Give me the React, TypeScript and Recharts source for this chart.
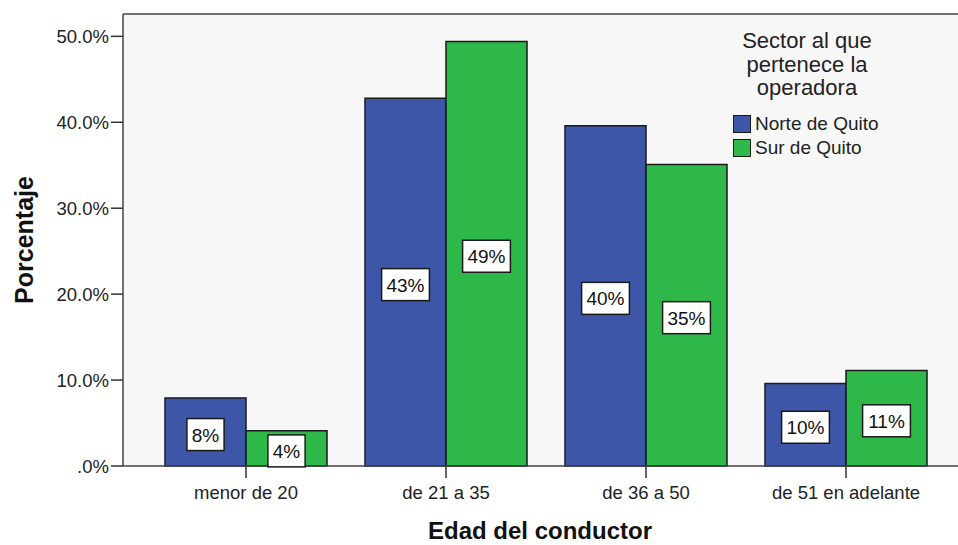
import { BarChart, Bar, XAxis, YAxis, CartesianGrid, Legend, LabelList, Label, ReferenceLine } from 'recharts';

const categories = ['menor de 20', 'de 21 a 35', 'de 36 a 50', 'de 51 en adelante'];
const norte = [7.9, 42.8, 39.6, 9.6];
const sur = [4.1, 49.4, 35.1, 11.1];
const seriesNames = ['Norte de Quito', 'Sur de Quito'];
const seriesColors = ['#3d56a8', '#2fb84a'];
const yTicks = [0, 10, 20, 30, 40, 50];
const yMax = 52.6;
const legendTitle = ['Sector al que', 'pertenece la', 'operadora'];

const data = categories.map((c, i) => ({ name: c, norte: norte[i], sur: sur[i] }));

const FONT = '"Liberation Sans", Arial, sans-serif';

const fmtTick = (v: number) => (v === 0 ? '.0%' : v.toFixed(1) + '%');

function BoxLabel(props: any) {
  const { x, y, width, height, value } = props;
  const txt = Math.round(value) + '%';
  const w = txt.length * 10.6 + 16;
  const cx = x + width / 2;
  const cy = y + height / 2 + 2.5;
  return (
    <g>
      <rect x={cx - w / 2} y={cy - 16} width={w} height={32} fill="#fff" stroke="#1a1a1a" strokeWidth={1.5} />
      <text x={cx} y={cy + 7} textAnchor="middle" fontSize={19} fontFamily={FONT} fill="#111">
        {txt}
      </text>
    </g>
  );
}

function LegendBox() {
  return (
    <div style={{ fontFamily: FONT, color: '#222' }}>
      <div style={{ width: 220, textAlign: 'center', fontSize: 22, lineHeight: '23.5px' }}>
        {legendTitle.map((t) => (
          <div key={t}>{t}</div>
        ))}
      </div>
      <div style={{ marginTop: 12, marginLeft: 36 }}>
        {seriesNames.map((n, i) => (
          <div key={n} style={{ display: 'flex', alignItems: 'center', height: 24, fontSize: 19 }}>
            <span
              style={{
                width: 16,
                height: 16,
                background: seriesColors[i],
                border: '1.5px solid #1a1a1a',
                marginRight: 4,
              }}
            />
            {n}
          </div>
        ))}
      </div>
    </div>
  );
}

export default function App() {
  return (
    <div style={{ position: 'fixed', left: 0, top: 0, width: 958, height: 545, overflow: 'hidden', background: '#fff' }}>
      <BarChart
        width={969}
        height={545}
        data={data}
        margin={{ top: 14, right: 0, bottom: 0, left: 0 }}
        barGap={0}
        barSize={81}
      >
        <CartesianGrid fill="#f6f7f6" horizontal={false} vertical={false} />
        <ReferenceLine y={yMax} stroke="#444" strokeWidth={1.5} />
        <XAxis
          dataKey="name"
          height={79}
          padding={{ left: 23, right: 23 }}
          tickSize={12}
          tickMargin={8}
          axisLine={{ stroke: '#444', strokeWidth: 1.5 }}
          tickLine={{ stroke: '#333', strokeWidth: 1.5 }}
          tick={{ fontSize: 18.5, fill: '#222', fontFamily: FONT }}
        >
          <Label
            content={(p: any) => {
              const vb = p.viewBox;
              return (
                <text
                  x={vb.x + vb.width / 2 - 6}
                  y={vb.y + vb.height - 6}
                  textAnchor="middle"
                  fontSize={24}
                  fontWeight="bold"
                  fontFamily={FONT}
                  fill="#111"
                >
                  Edad del conductor
                </text>
              );
            }}
          />
        </XAxis>
        <YAxis
          width={123}
          domain={[0, yMax]}
          ticks={yTicks}
          tickFormatter={fmtTick}
          tickSize={12}
          tickMargin={2}
          axisLine={{ stroke: '#444', strokeWidth: 1.5 }}
          tickLine={{ stroke: '#333', strokeWidth: 1.5 }}
          tick={{ fontSize: 18.5, fill: '#222', fontFamily: FONT }}
        >
          <Label
            content={(p: any) => {
              const vb = p.viewBox;
              const cx = vb.x + 33;
              const cy = vb.y + vb.height / 2;
              return (
                <text
                  x={cx}
                  y={cy}
                  transform={`rotate(-90 ${cx} ${cy})`}
                  textAnchor="middle"
                  fontSize={25}
                  fontWeight="bold"
                  fontFamily={FONT}
                  fill="#111"
                >
                  Porcentaje
                </text>
              );
            }}
          />
        </YAxis>
        <Legend
          layout="vertical"
          verticalAlign="middle"
          align="center"
          content={() => <LegendBox />}
          wrapperStyle={{ top: 29, left: 697, width: 240 }}
        />
        <Bar dataKey="norte" name={seriesNames[0]} fill={seriesColors[0]} stroke="#1a1a1a" strokeWidth={1.5} isAnimationActive={false}>
          <LabelList dataKey="norte" content={BoxLabel} />
        </Bar>
        <Bar dataKey="sur" name={seriesNames[1]} fill={seriesColors[1]} stroke="#1a1a1a" strokeWidth={1.5} isAnimationActive={false}>
          <LabelList dataKey="sur" content={BoxLabel} />
        </Bar>
      </BarChart>
    </div>
  );
}
